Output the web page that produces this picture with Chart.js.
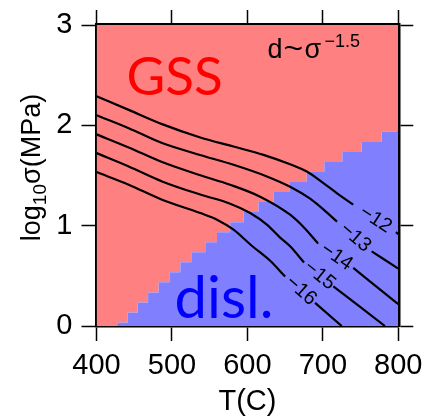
<!DOCTYPE html>
<html>
<head>
<meta charset="utf-8">
<script src="https://cdn.jsdelivr.net/npm/chart.js@4/dist/chart.umd.min.js"></script>
<style>
  html, body { margin: 0; padding: 0; background: #fff; }
  canvas { display: block; }
</style>
</head>
<body>
<canvas id="chart" width="426" height="419"></canvas>
<script>
// axes
const xTicks = [400, 500, 600, 700, 800]
const yTicks = [0, 1, 2, 3]

// GSS / dislocation field boundary, a staircase: T where each step starts, log10 stress of the step
const boundaryT = [400, 428.7, 441.4, 454.6, 468.4, 482.4, 496.6, 511.1, 525.7, 544.2, 559.7, 577.2, 594.8, 614.7, 634.5, 655.7, 678.7, 702.0, 725.8, 751.5, 777.9, 800]
const boundaryS = [0, 0.035, 0.135, 0.235, 0.335, 0.435, 0.535, 0.635, 0.735, 0.835, 0.935, 1.035, 1.135, 1.235, 1.335, 1.435, 1.535, 1.635, 1.735, 1.835, 1.935, 1.935]

// strain rate contours (log10), null = where the label sits
const levels = [-12, -13, -14, -15, -16]
const c12T = [400, 442.7, 486.9, 537.6, 581.6, 621.3, 656.6, 678.7, 700.7, 718.4, 740.3, 768, 796.8, 800]
const c12S = [2.29, 2.154, 2.012, 1.879, 1.789, 1.706, 1.612, 1.540, 1.425, 1.325, 1.209, null, 0.935, 0.915]
const c13T = [400, 442.7, 486.9, 544.2, 581.6, 625.8, 656.6, 683.1, 701.0, 718.8, 742, 764.7, 800]
const c13S = [2.10, 1.972, 1.823, 1.690, 1.607, 1.491, 1.388, 1.269, 1.16, 1.04, null, 0.744, 0.572]
const c14T = [400, 442.7, 486.9, 537.6, 577.2, 616.9, 656.6, 676.5, 693.7, 717, 740.3, 797.8, 800]
const c14S = [1.91, 1.779, 1.634, 1.502, 1.408, 1.289, 1.109, 0.970, 0.821, null, 0.579, 0.231, 0.218]
const c15T = [400, 442.7, 486.9, 537.6, 577.2, 603.7, 625.8, 643.4, 656.6, 675.1, 694.5, 713.9, 782.3]
const c15S = [1.723, 1.590, 1.441, 1.31, 1.219, 1.126, 1.010, 0.881, 0.794, 0.632, null, 0.396, 0]
const c16T = [400, 442.7, 486.9, 537.6, 559.7, 581.6, 605.8, 630.2, 650, 670, 689.7, 725]
const c16S = [1.534, 1.408, 1.259, 1.126, 1.060, 0.960, 0.800, 0.650, 0.4925, null, 0.231, 0]

const contours = [[c12T, c12S], [c13T, c13S], [c14T, c14S], [c15T, c15S], [c16T, c16S]]

const red = '#ff8080'
const blue = '#8080ff'
const sans = "'Liberation Sans', Arial, sans-serif"
const labelFont = "Lato, 'Open Sans', sans-serif"

const pts = (xs, ys) => xs.map((x, i) => ({x: x, y: ys[i]}))

// contour labels sit in the gap of each line, turned along it
const contourLabels = {
    id: 'contourLabels',
    afterDatasetsDraw(chart){
        const ctx = chart.ctx
        const sx = chart.scales.x
        const sy = chart.scales.y
        ctx.save()
        ctx.font = '20px ' + sans
        ctx.fillStyle = '#000'
        ctx.textAlign = 'center'
        ctx.textBaseline = 'middle'
        contours.forEach((c, i) => {
            const g = c[1].indexOf(null)
            const x0 = sx.getPixelForValue(c[0][g - 1]), y0 = sy.getPixelForValue(c[1][g - 1])
            const x1 = sx.getPixelForValue(c[0][g + 1]), y1 = sy.getPixelForValue(c[1][g + 1])
            ctx.save()
            ctx.translate((x0 + x1) / 2 + 1, (y0 + y1) / 2 + 1)
            ctx.rotate(Math.atan2(y1 - y0, x1 - x0))
            ctx.fillText('\u2212' + Math.abs(levels[i]), 0, 0)
            ctx.restore()
        })
        ctx.restore()
    }
}

// field names, piezometer note and the y title
const annotations = {
    id: 'annotations',
    afterDraw(chart){
        const ctx = chart.ctx
        const a = chart.chartArea
        ctx.save()
        ctx.textBaseline = 'alphabetic'
        ctx.textAlign = 'left'

        ctx.fillStyle = '#ff0000'
        ctx.font = '53px ' + labelFont
        ctx.fillText('GSS', a.left + 30, a.top + 70)

        ctx.fillStyle = '#0000ff'
        ctx.font = '58px ' + labelFont
        ctx.fillText('disl.', a.left + 78, a.top + 293)

        // d~sigma^-1.5, letters spread like the R plotmath output
        ctx.fillStyle = '#000'
        ctx.font = '27px ' + sans
        ctx.fillText('d', a.left + 171, a.top + 33)
        ctx.save()
        ctx.translate(a.left + 187, a.top + 33)
        ctx.scale(1.25, 1)
        ctx.fillText('~', 0, 0)
        ctx.restore()
        ctx.fillText('\u03c3', a.left + 208, a.top + 33)
        ctx.font = '18px ' + sans
        ctx.fillText('\u22121.5', a.left + 228, a.top + 22)

        // y title, rotated
        ctx.translate(40, (a.top + a.bottom) / 2 - 8)
        ctx.rotate(-Math.PI / 2)
        const parts = [['log', 27, 0], ['10', 19, 6], ['\u03c3(MPa)', 27, 0]]
        let w = 0
        parts.forEach(p => { ctx.font = p[1] + 'px ' + sans; w += ctx.measureText(p[0]).width })
        let x = -w / 2
        parts.forEach(p => {
            ctx.font = p[1] + 'px ' + sans
            ctx.fillText(p[0], x, p[2])
            x += ctx.measureText(p[0]).width
        })
        ctx.restore()
    }
}

const tickGrid = {
    drawOnChartArea: false,
    drawTicks: true,
    tickLength: 15,
    tickWidth: 1.5,
    tickColor: '#000'
}
const frame = { display: true, color: '#000', width: 3.5 }

// fixed box sizes so the plot area lands where the original has it
const fitX = h => s => { s.height = h; s.paddingLeft = 0; s.paddingRight = 0 }
const fitY = w => s => { s.width = w; s.paddingTop = 0; s.paddingBottom = 0 }

new Chart(document.querySelector('#chart'), {
    type: 'line',
    data: {
        datasets: [
            ...contours.map((c, i) => ({
                label: String(levels[i]),
                data: pts(c[0], c[1]),
                borderColor: '#000',
                borderWidth: 2.2,
                pointRadius: 0,
                cubicInterpolationMode: 'monotone',
                fill: false,
                order: 1
            })),
            {
                // stepped: true holds each value until the next T
                label: 'disl.',
                data: pts(boundaryT, boundaryS),
                stepped: true,
                fill: 'origin',
                backgroundColor: blue,
                borderWidth: 0,
                pointRadius: 0,
                order: 2
            },
            {
                label: 'GSS',
                data: pts(boundaryT, boundaryS),
                stepped: true,
                fill: 'end',
                backgroundColor: red,
                borderWidth: 0,
                pointRadius: 0,
                order: 3
            }
        ]
    },
    options: {
        responsive: false,
        animation: false,
        events: [],
        layout: { padding: 0 },
        plugins: {
            legend: { display: false },
            tooltip: { enabled: false }
        },
        scales: {
            x: {
                type: 'linear', position: 'bottom', min: 400, max: 800, z: 1,
                afterBuildTicks: s => { s.ticks = xTicks.map(v => ({value: v})) },
                afterFit: fitX(93),
                grid: tickGrid, border: frame,
                ticks: { color: '#000', font: { family: sans, size: 29 }, padding: 8, maxRotation: 0, autoSkip: false },
                title: { display: true, text: 'T(C)', color: '#000', font: { family: sans, size: 29 }, padding: { top: 0, bottom: 0 } }
            },
            x2: {
                type: 'linear', position: 'top', min: 400, max: 800, z: 1,
                afterBuildTicks: s => { s.ticks = xTicks.map(v => ({value: v})) },
                afterFit: fitX(25),
                grid: tickGrid, border: frame,
                ticks: { display: false }
            },
            y: {
                type: 'linear', position: 'left', min: 0, max: 3, z: 1,
                afterBuildTicks: s => { s.ticks = yTicks.map(v => ({value: v})) },
                afterFit: fitY(96.5),
                grid: tickGrid, border: frame,
                ticks: { color: '#000', font: { family: sans, size: 29 }, padding: 9 }
            },
            y2: {
                type: 'linear', position: 'right', min: 0, max: 3, z: 1,
                afterBuildTicks: s => { s.ticks = yTicks.map(v => ({value: v})) },
                afterFit: fitY(27.7),
                grid: tickGrid, border: frame,
                ticks: { display: false }
            }
        }
    },
    plugins: [contourLabels, annotations]
})
</script>
</body>
</html>
